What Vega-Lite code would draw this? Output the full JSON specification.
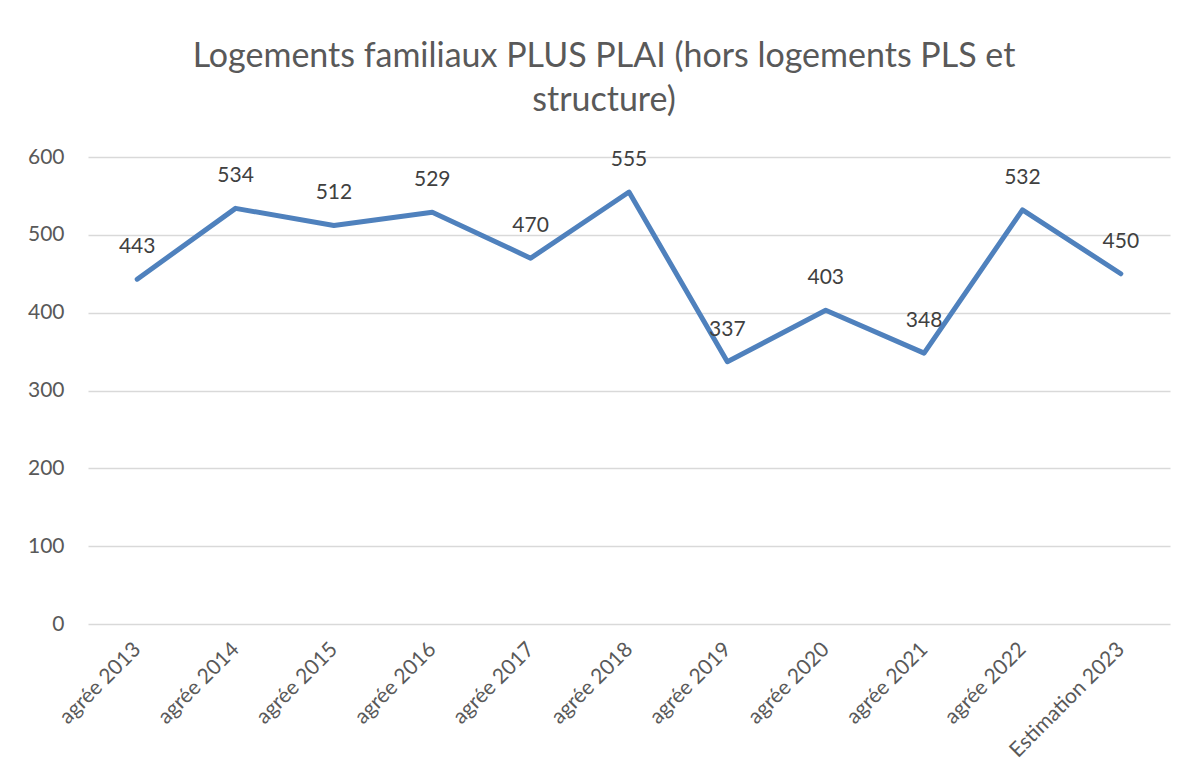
{
  "$schema": "https://vega.github.io/schema/vega-lite/v6.json",
  "autosize": "none",
  "width": 1082,
  "height": 467,
  "padding": {"left": 88, "top": 157, "right": 15, "bottom": 156},
  "background": "white",
  "config": {
    "font": "Lato",
    "view": {"stroke": null}
  },
  "title": {
    "text": ["Logements familiaux PLUS PLAI (hors logements PLS et", "structure)"],
    "fontSize": 34,
    "font": "Lato",
    "fontWeight": "normal",
    "color": "#595959",
    "lineHeight": 44,
    "anchor": "middle",
    "dx": -25,
    "offset": 28
  },
  "data": {
    "values": [
      {"cat": "agrée 2013", "v": 443},
      {"cat": "agrée 2014", "v": 534},
      {"cat": "agrée 2015", "v": 512},
      {"cat": "agrée 2016", "v": 529},
      {"cat": "agrée 2017", "v": 470},
      {"cat": "agrée 2018", "v": 555},
      {"cat": "agrée 2019", "v": 337},
      {"cat": "agrée 2020", "v": 403},
      {"cat": "agrée 2021", "v": 348},
      {"cat": "agrée 2022", "v": 532},
      {"cat": "Estimation 2023", "v": 450}
    ]
  },
  "encoding": {
    "x": {
      "field": "cat", "type": "ordinal", "sort": null,
      "scale": {"type": "point", "padding": 0.5},
      "axis": {
        "title": null, "domain": false, "ticks": false,
        "labelAngle": -45, "labelAlign": "right", "labelBaseline": "middle",
        "labelFontSize": 21, "labelColor": "#595959", "labelPadding": 22, "labelFont": "Lato"
      }
    },
    "y": {
      "field": "v", "type": "quantitative",
      "scale": {"domain": [0, 600], "nice": false},
      "axis": {
        "title": null, "domain": false, "ticks": false,
        "values": [0, 100, 200, 300, 400, 500, 600],
        "grid": true, "gridColor": "#d9d9d9", "gridWidth": 1.5,
        "labelFontSize": 21, "labelColor": "#595959", "labelPadding": 24, "labelFont": "Lato"
      }
    }
  },
  "layer": [
    {
      "mark": {"type": "line", "color": "#4f81bd", "strokeWidth": 5, "strokeCap": "round", "strokeJoin": "round"}
    },
    {
      "mark": {"type": "text", "dy": -32, "fontSize": 21, "color": "#404040", "font": "Lato"},
      "encoding": {"text": {"field": "v", "type": "quantitative"}}
    }
  ]
}
